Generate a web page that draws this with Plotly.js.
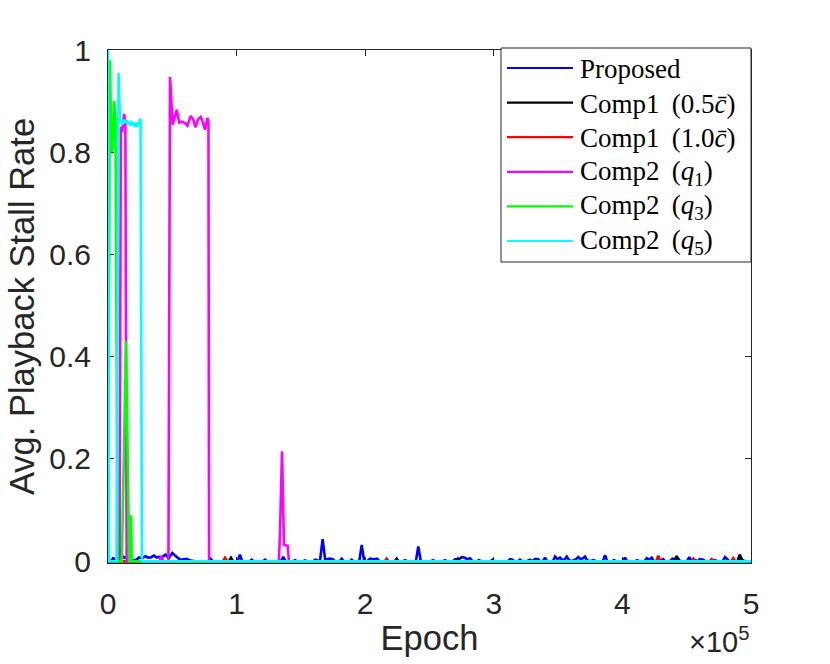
<!DOCTYPE html>
<html>
<head>
<meta charset="utf-8">
<script src="https://cdn.plot.ly/plotly-3.0.1.min.js"></script>
<style>html,body{margin:0;padding:0;background:#fff}</style>
</head>
<body>
<div id="chart" style="width:830px;height:664px"></div>
<script>
// ---- data (epochs, stall rate) ----
var seriesNames = ["Proposed", "Comp1 \u2009(0.5<i>c\u0304</i>)", "Comp1 \u2009(1.0<i>c\u0304</i>)",
  "Comp2 \u2009(<i>q</i><sub>1</sub>)", "Comp2 \u2009(<i>q</i><sub>3</sub>)", "Comp2 \u2009(<i>q</i><sub>5</sub>)"];
var seriesColors = ["#0000ff", "#000000", "#ff0000", "#ff00ff", "#00ff00", "#00ffff"];

var proposedX = [0,700,2500,4200,5600,7600,9300,10300,11100,12500,14500,16500,18900,21000,22800,24100,26500,29300,31200,33200,35800,37800,39700,41500,43000,44800,46000,47400,50000,52600,54500,56500,58800,61200,63500,65600,67500,78000,79800,81500,100800,102600,104300,110200,111700,113200,120600,122100,123600,134500,136300,138000,144000,145400,146800,151800,153200,154600,159700,161000,162500,164800,166900,169000,170500,172500,174800,176500,180300,181700,183200,188200,189500,190800,195400,197300,199200,201700,203700,206400,209200,211000,229600,231000,232400,239400,241300,243200,251300,252700,254100,260600,262000,263400,268500,270000,272500,275000,277500,279000,281500,283500,287000,288500,290000,297500,299000,300500,311000,312600,314500,316000,318800,320400,322000,326000,328000,330000,332000,334400,336000,338300,339800,341300,346000,347600,349500,351500,353500,355000,356700,358500,360500,362500,364000,365700,367500,369500,370900,372500,375000,377500,379500,384800,386500,388200,392000,393500,395000,400500,402000,403600,410000,411500,413000,417200,418900,420800,422800,424500,430000,431600,433200,437000,439000,441500,443500,445000,450300,452000,453700,456700,458500,460300,462900,464500,470500,472000,473500,478100,479800,481500,483000,489500,491200,493000,495000,500000];
var proposedY = [0.21,0,0,0.007,0,0,0.028,0.008,0.010,0.007,0.008,0.003,0.003,0.002,0.004,0.0075,0.006,0.0097,0.007,0.0075,0.011,0.007,0.0084,0.008,0.0097,0.013,0.009,0.0065,0.016,0.0097,0.006,0.003,0.004,0.0045,0.002,0.001,0,0,0.0045,0,0,0.013,0,0,0.003,0,0,0.003,0,0,0.0085,0,0,0.002,0,0,0.0015,0,0,0.003,0.002,0,0.043,0,0.004,0.005,0.004,0,0,0.005,0,0,0.003,0,0,0.032,0,0,0.005,0.004,0.005,0,0,0.002,0,0,0.029,0,0,0.002,0,0,0.002,0,0,0.004,0.003,0.008,0.007,0.004,0.006,0,0,0.002,0,0,0.003,0,0,0.004,0.003,0,0,0.003,0,0,0.003,0,0.004,0.004,0,0,0.007,0,0,0.009,0.004,0.007,0.002,0.003,0.009,0.002,0,0.002,0.004,0.008,0.004,0.006,0.009,0.002,0,0.002,0,0,0.012,0,0,0.002,0,0,0.007,0,0,0.002,0,0,0.006,0.003,0.007,0,0,0.004,0,0,0.005,0.004,0.005,0,0,0.008,0,0.002,0,0.004,0.003,0,0,0.002,0,0,0.008,0.004,0,0,0.013,0.003,0,0];

var comp1HalfX = [0,94000,95600,97200,223000,224500,226000,270500,272000,273500,440500,442200,443900,489800,491400,493000,500000];
var comp1HalfY = [0,0,0.0066,0,0,0.005,0,0,0.005,0,0,0.010,0,0,0.012,0,0];

var comp1FullX = [0,89400,91000,92600,215200,216700,218200,426300,427900,429500,453600,455100,456600,467900,469400,470900,484700,486200,487700,500000];
var comp1FullY = [0,0,0.0066,0,0,0.005,0,0,0.011,0,0,0.005,0,0,0.004,0,0,0.006,0,0];

var comp2q1X = [0,9000,10000,11000,12500,13500,14500,40000,41500,43000,47000,48200,50300,53400,55400,57300,59900,61700,64300,66300,67900,70200,72100,73600,75400,77200,78100,78600,132800,133700,135300,136800,139700,140700,500000];
var comp2q1Y = [0,0,0.85,0.84,0.875,0.86,0,0,0.01,0,0,0.947,0.854,0.883,0.858,0.860,0.857,0.852,0.871,0.864,0.849,0.865,0.869,0.860,0.844,0.867,0.86,0,0,0.05,0.215,0.032,0.03,0,0];

var comp2q3X = [0,1500,2500,3300,4800,5800,7500,10800,14000,16500,17300,17900,18500,500000];
var comp2q3Y = [0,0.98,0.82,0.80,0.90,0.86,0,0,0.43,0,0,0.09,0,0];

var comp2q5X = [0,700,6600,8200,9300,10500,11500,12500,13500,14500,15500,16500,17500,18500,19500,20500,21500,22500,23500,24500,25300,26400,500000];
var comp2q5Y = [1.0,0,0,0.955,0.862,0.860,0.855,0.864,0.858,0.862,0.855,0.860,0.852,0.858,0.855,0.852,0.858,0.850,0.856,0.860,0.866,0,0];

var xTickVals = [0,100000,200000,300000,400000,500000];
var xTickText = ["0","1","2","3","4","5"];
var yTickVals = [0,0.2,0.4,0.6,0.8,1];
var yTickText = ["0","0.2","0.4","0.6","0.8","1"];

// ---- build traces ----
var xs = [proposedX, comp1HalfX, comp1FullX, comp2q1X, comp2q3X, comp2q5X];
var ys = [proposedY, comp1HalfY, comp1FullY, comp2q1Y, comp2q3Y, comp2q5Y];
var traces = xs.map(function (x, i) {
  return {x: x, y: ys[i], type: "scatter", mode: "lines", name: seriesNames[i],
          showlegend: false, hoverinfo: "skip",
          line: {color: seriesColors[i], width: 2.6}};
});

// ---- hand-built MATLAB-style legend (paper coords) ----
var plotL = 108, plotR = 751, plotT = 50, plotB = 563;
function px2x(p) { return (p - plotL) / (plotR - plotL); }
function py2y(p) { return (plotB - p) / (plotB - plotT); }
var shapes = [{type: "rect", xref: "paper", yref: "paper",
  x0: px2x(501), x1: px2x(751), y0: py2y(262), y1: py2y(48),
  line: {color: "#262626", width: 1}, fillcolor: "#ffffff", layer: "above"}];
var annotations = [];
seriesNames.forEach(function (n, i) {
  var cy = 68 + i * 34.6;
  shapes.push({type: "line", xref: "paper", yref: "paper",
    x0: px2x(507), x1: px2x(573), y0: py2y(cy), y1: py2y(cy),
    line: {color: seriesColors[i], width: 2.2}, layer: "above"});
  annotations.push({xref: "paper", yref: "paper", x: px2x(578), y: py2y(cy + 1),
    xanchor: "left", yanchor: "middle", showarrow: false, text: n,
    font: {family: "Liberation Serif, Times New Roman, serif", size: 27, color: "#000"}});
});
annotations.push({xref: "paper", yref: "paper", x: 1.0, y: py2y(640), xanchor: "right",
  yanchor: "middle", showarrow: false, text: "\u00d710<sup>5</sup>",
  font: {family: "Liberation Sans, Arial, sans-serif", size: 29, color: "#262626"}});

var axisFont = {family: "Liberation Sans, Arial, sans-serif", size: 30, color: "#262626"};
var titleFont = {family: "Liberation Sans, Arial, sans-serif", size: 34.5, color: "#262626"};
var layout = {
  width: 830, height: 664,
  margin: {l: plotL, r: 830 - plotR, t: plotT, b: 664 - plotB, pad: 0},
  paper_bgcolor: "#ffffff", plot_bgcolor: "#ffffff",
  showlegend: false,
  xaxis: {range: [0, 500000], tickvals: xTickVals, ticktext: xTickText,
    ticks: "inside", ticklen: 6, tickwidth: 1, tickcolor: "#262626",
    showline: true, linecolor: "#262626", linewidth: 1, mirror: "ticks",
    showgrid: false, zeroline: false, tickfont: axisFont, ticklabelstandoff: 14,
    layer: "below traces",
    title: {text: "Epoch", font: titleFont, standoff: 6}},
  yaxis: {range: [-0.0035, 1], tickvals: yTickVals, ticktext: yTickText,
    ticks: "inside", ticklen: 6, tickwidth: 1, tickcolor: "#262626",
    showline: true, linecolor: "#262626", linewidth: 1, mirror: "ticks",
    showgrid: false, zeroline: false, tickfont: axisFont, ticklabelstandoff: 10,
    layer: "below traces",
    title: {text: "Avg. Playback Stall Rate", font: titleFont, standoff: 4}},
  shapes: shapes,
  annotations: annotations
};
Plotly.newPlot("chart", traces, layout, {staticPlot: true, displayModeBar: false});
</script>
</body>
</html>
